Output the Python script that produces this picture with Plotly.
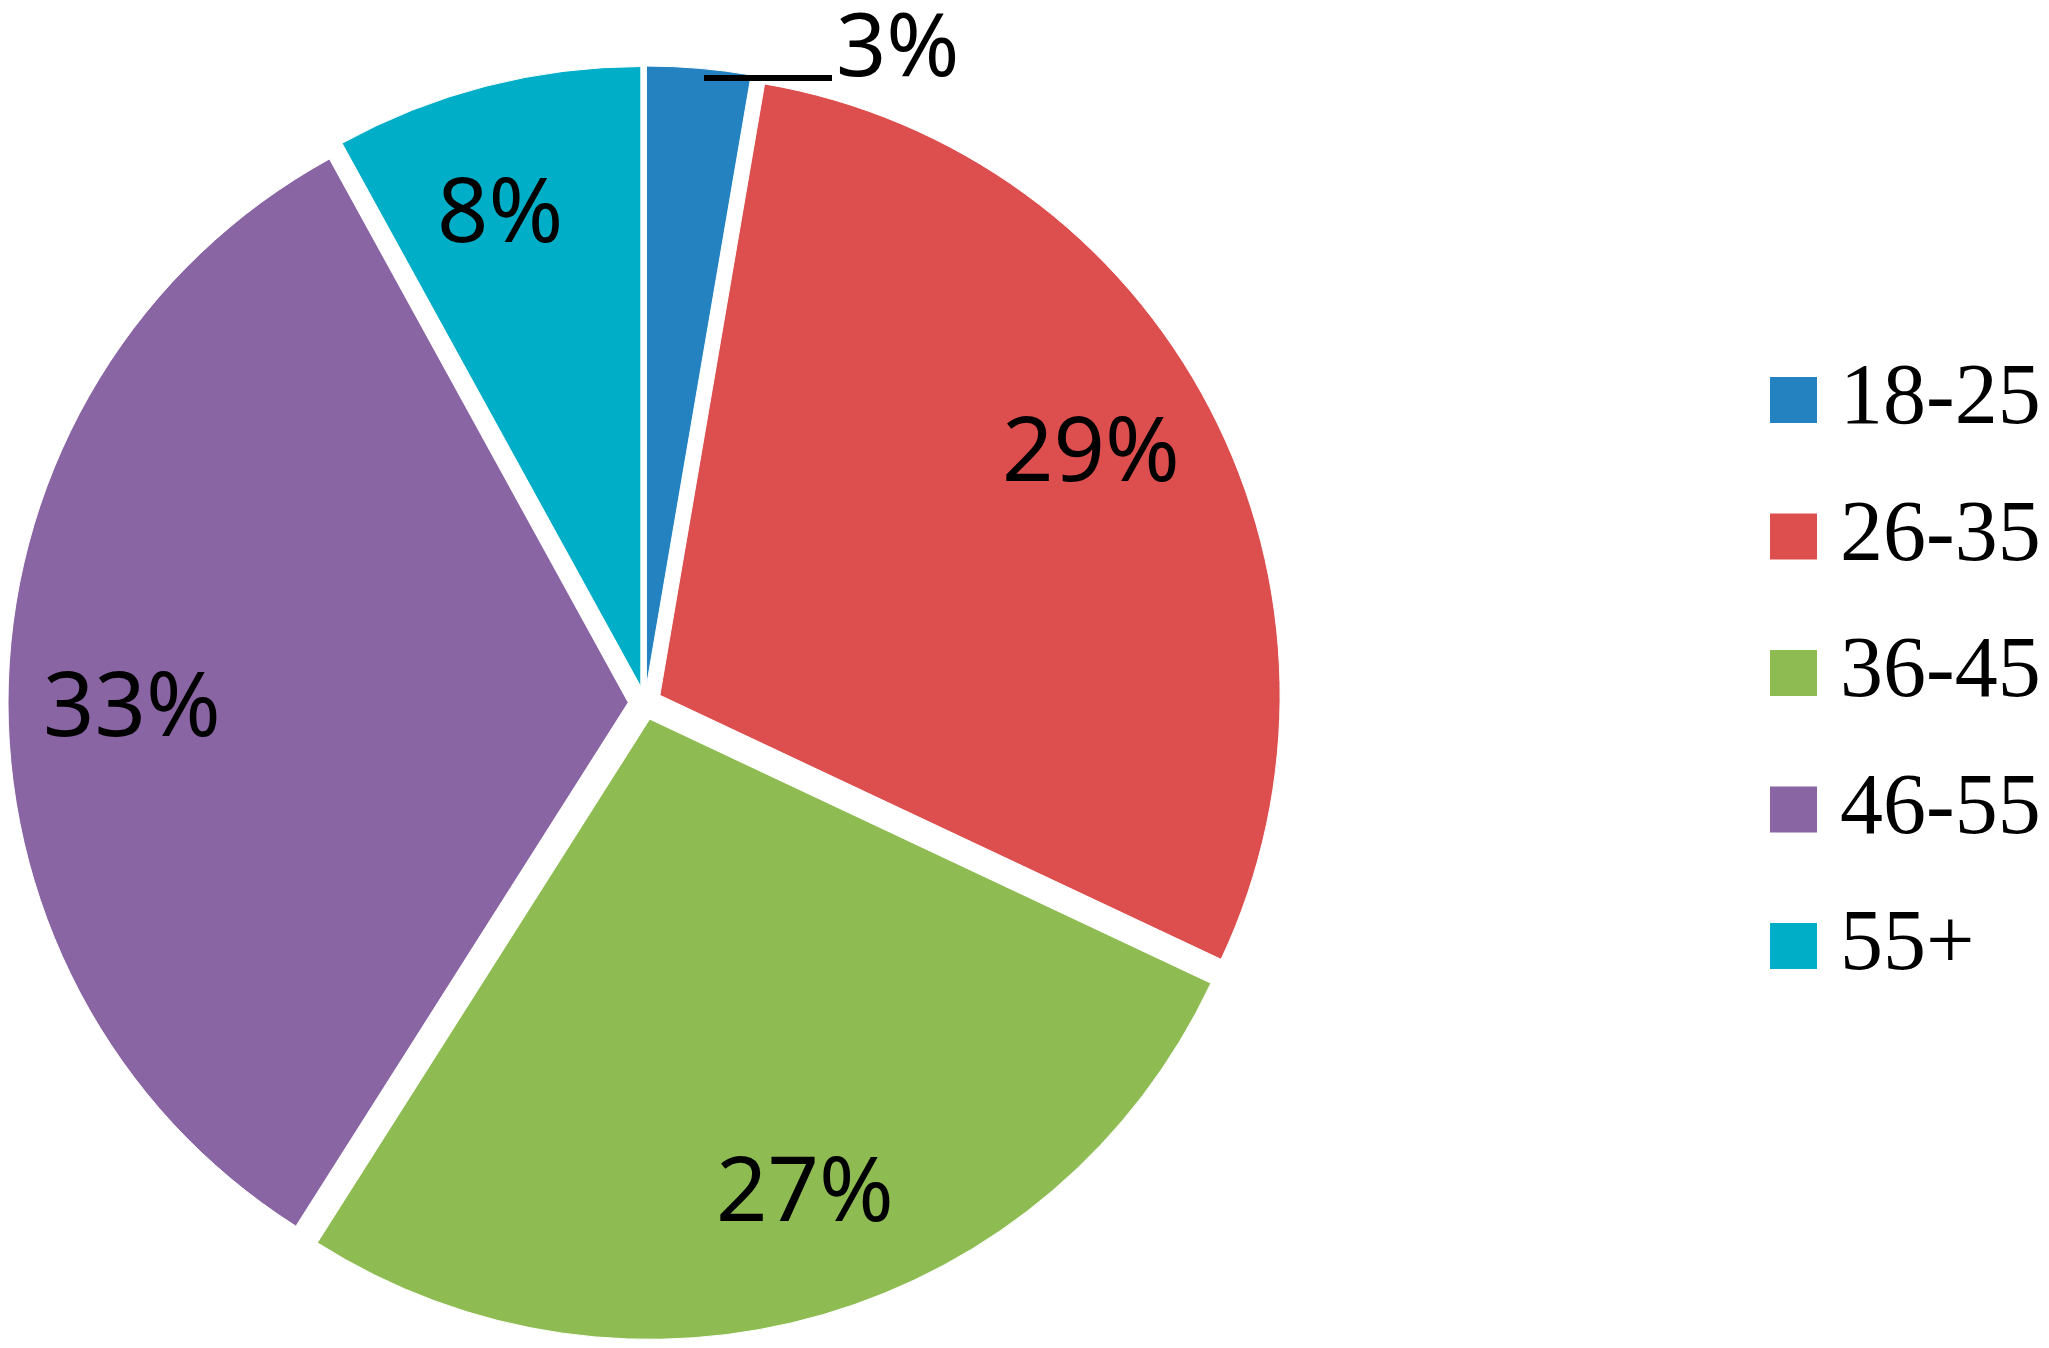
import math
import plotly.graph_objects as go

categories = ["18-25", "26-35", "36-45", "46-55", "55+"]
values = [2.7, 29.3, 27, 33, 8]
labels_pct = ["3%", "29%", "27%", "33%", "8%"]
colors = ["#2482C0", "#DD4F4E", "#8EBC52", "#8A65A4", "#00AEC7"]

W, H = 2049, 1348
PULL = 0.027

# pie box in pixels
px0, px1 = 0, 1274
py0, py1 = 58, 1332

fig = go.Figure()
fig.add_trace(go.Pie(
    labels=categories,
    values=values,
    sort=False,
    direction="clockwise",
    rotation=0,
    pull=[PULL] * len(values),
    marker=dict(colors=colors, line=dict(color="white", width=1)),
    textinfo="none",
    showlegend=False,
    hoverinfo="label+percent",
    domain=dict(x=[px0 / W, px1 / W], y=[1 - py1 / H, 1 - py0 / H]),
))

# percentage labels placed along each slice's mid-angle
cx, cy = (px0 + px1) / 2, (py0 + py1) / 2
R = (px1 - px0) / 2 / (1 + PULL)
total = sum(values)
cum = 0
for i, v in enumerate(values):
    mid = (cum + v / 2) / total * 2 * math.pi - math.radians(2)
    cum += v
    if i == 0:
        continue
    r = R * (0.80 + PULL)
    x = cx + r * math.sin(mid)
    y = cy - r * math.cos(mid) - 4
    fig.add_annotation(x=x / W, y=1 - y / H, xref="paper", yref="paper",
                       text=labels_pct[i], showarrow=False,
                       xanchor="center", yanchor="middle",
                       font=dict(family="Noto Sans", size=90, color="black"))

# small-slice label with leader line
fig.add_annotation(x=826 / W, y=1 - 34 / H, xref="paper", yref="paper",
                   text=labels_pct[0], showarrow=False, xanchor="left", yanchor="middle",
                   font=dict(family="Noto Sans", size=88, color="black"))
fig.add_shape(type="line", xref="paper", yref="paper",
              x0=696 / W, x1=824 / W, y0=1 - 70 / H, y1=1 - 70 / H,
              line=dict(color="black", width=6))

# legend
leg_top, leg_step = 392, 136.5
for i, (cat, col) in enumerate(zip(categories, colors)):
    yc = leg_top + i * leg_step
    fig.add_shape(type="rect", xref="paper", yref="paper",
                  x0=1762 / W, x1=1809 / W, y0=1 - (yc - 23) / H, y1=1 - (yc + 23) / H,
                  fillcolor=col, line=dict(width=0))
    fig.add_annotation(x=1830 / W, y=1 - (yc - 6) / H, xref="paper", yref="paper",
                       text=cat, showarrow=False, xanchor="left", yanchor="middle",
                       font=dict(family="Liberation Serif", size=86, color="black"))

fig.update_layout(
    width=W, height=H,
    margin=dict(l=0, r=0, t=0, b=0),
    paper_bgcolor="white",
    plot_bgcolor="white",
)

fig.write_html("out.html")
